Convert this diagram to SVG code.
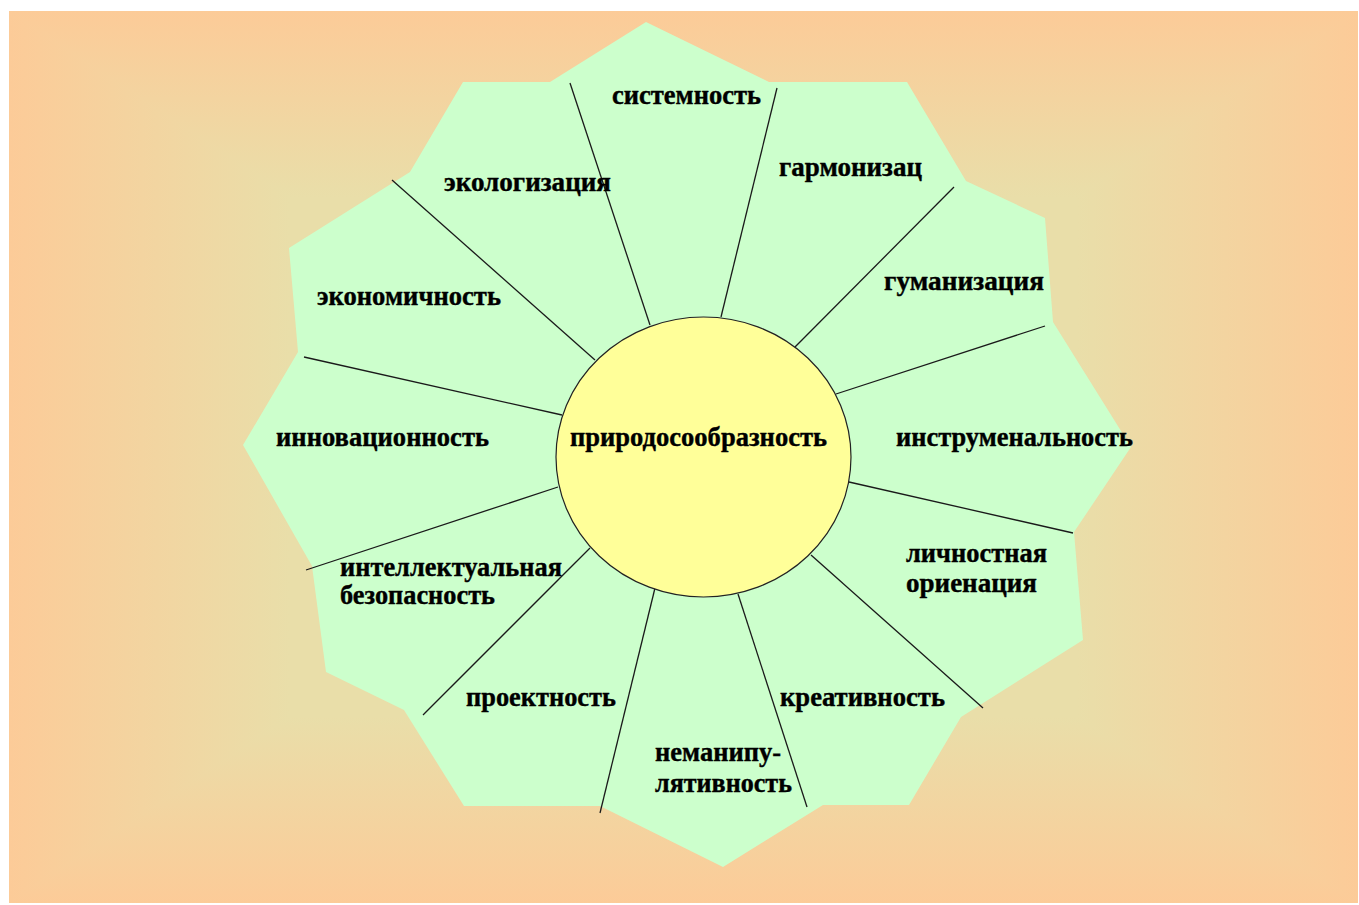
<svg xmlns="http://www.w3.org/2000/svg" width="1359" height="905" viewBox="0 0 1359 905">
<defs>
<style>
.lbl{font-family:"Liberation Serif","DejaVu Serif",serif;font-weight:bold;font-size:28px;fill:#000;stroke:#000;stroke-width:0.4}
.con line{stroke:#1a1a1a;stroke-width:1.3}
#background *{shape-rendering:crispEdges}
</style>
<linearGradient id="gl" gradientUnits="userSpaceOnUse" x1="9" y1="0" x2="290" y2="0"><stop offset="0" stop-color="#FCCB98"/><stop offset="1" stop-color="#E9DEA9"/></linearGradient>
<linearGradient id="gr" gradientUnits="userSpaceOnUse" x1="1358" y1="0" x2="1077" y2="0"><stop offset="0" stop-color="#FCCB98"/><stop offset="1" stop-color="#E9DEA9"/></linearGradient>
<linearGradient id="gt" gradientUnits="userSpaceOnUse" x1="0" y1="11" x2="0" y2="197"><stop offset="0" stop-color="#FCCB98"/><stop offset="1" stop-color="#E9DEA9"/></linearGradient>
<linearGradient id="gb" gradientUnits="userSpaceOnUse" x1="0" y1="903" x2="0" y2="717"><stop offset="0" stop-color="#FCCB98"/><stop offset="1" stop-color="#E9DEA9"/></linearGradient>
</defs>
<rect x="0" y="0" width="1359" height="905" fill="#ffffff"/>
<g id="background">
<rect x="290" y="197" width="787" height="520" fill="#E9DEA9"/>
<polygon points="9,11 290,197 290,717 9,903" fill="url(#gl)"/>
<polygon points="1358,11 1077,197 1077,717 1358,903" fill="url(#gr)"/>
<polygon points="9,11 1358,11 1077,197 290,197" fill="url(#gt)"/>
<polygon points="9,903 1358,903 1077,717 290,717" fill="url(#gb)"/>
</g>
<g id="flower">
<polygon fill="#CCFFCC" points="646,22 769,82 907,82 966,181 1045,218 1053,322 1131,447 1074,532 1083,640 961,717 909,805 823,805 723,867 600,806 464,806 404,710 326,672 312,566 243,445 298,352 289,248 410,172 463,82 550,82"/>
</g>
<g id="connectors" class="con">
<line x1="570" y1="83" x2="650" y2="325"/>
<line x1="777" y1="88" x2="721" y2="317"/>
<line x1="954" y1="187" x2="795" y2="347"/>
<line x1="1045" y1="326" x2="836" y2="394"/>
<line x1="849" y1="482" x2="1073" y2="533"/>
<line x1="811" y1="555" x2="983" y2="708"/>
<line x1="738" y1="594" x2="807" y2="807"/>
<line x1="655" y1="588" x2="600" y2="813"/>
<line x1="590" y1="548" x2="423" y2="715"/>
<line x1="558" y1="487" x2="306" y2="570"/>
<line x1="562" y1="415" x2="304" y2="357"/>
<line x1="595" y1="360" x2="392" y2="180"/>
</g>
<g id="center">
<ellipse cx="703.5" cy="457" rx="147.5" ry="140" fill="#FFFF99" stroke="#222" stroke-width="1.2"/>
<text class="lbl" x="570" y="446" textLength="257" lengthAdjust="spacingAndGlyphs">природосообразность</text>
</g>
<g id="n-sistemnost"><text class="lbl" x="612" y="104" textLength="149" lengthAdjust="spacingAndGlyphs">системность</text></g>
<g id="n-garmonizac"><text class="lbl" x="779" y="176" textLength="143" lengthAdjust="spacingAndGlyphs">гармонизац</text></g>
<g id="n-gumanizaciya"><text class="lbl" x="884" y="290" textLength="160" lengthAdjust="spacingAndGlyphs">гуманизация</text></g>
<g id="n-instrumenalnost"><text class="lbl" x="896" y="446" textLength="237" lengthAdjust="spacingAndGlyphs">инструменальность</text></g>
<g id="n-lichnostnaya">
<text class="lbl" x="906" y="562" textLength="141" lengthAdjust="spacingAndGlyphs">личностная</text>
<text class="lbl" x="906" y="592" textLength="131" lengthAdjust="spacingAndGlyphs">ориенация</text>
</g>
<g id="n-kreativnost"><text class="lbl" x="780" y="706" textLength="165" lengthAdjust="spacingAndGlyphs">креативность</text></g>
<g id="n-nemanipulyativnost">
<text class="lbl" x="655" y="761" textLength="126" lengthAdjust="spacingAndGlyphs">неманипу-</text>
<text class="lbl" x="655" y="792" textLength="137" lengthAdjust="spacingAndGlyphs">лятивность</text>
</g>
<g id="n-proektnost"><text class="lbl" x="466" y="706" textLength="150" lengthAdjust="spacingAndGlyphs">проектность</text></g>
<g id="n-intellektualnaya">
<text class="lbl" x="340" y="576" textLength="222" lengthAdjust="spacingAndGlyphs">интеллектуальная</text>
<text class="lbl" x="340" y="604" textLength="155" lengthAdjust="spacingAndGlyphs">безопасность</text>
</g>
<g id="n-innovacionnost"><text class="lbl" x="276" y="446" textLength="213" lengthAdjust="spacingAndGlyphs">инновационность</text></g>
<g id="n-ekonomichnost"><text class="lbl" x="317" y="305" textLength="184" lengthAdjust="spacingAndGlyphs">экономичность</text></g>
<g id="n-ekologizaciya"><text class="lbl" x="444" y="191" textLength="167" lengthAdjust="spacingAndGlyphs">экологизация</text></g>
</svg>
